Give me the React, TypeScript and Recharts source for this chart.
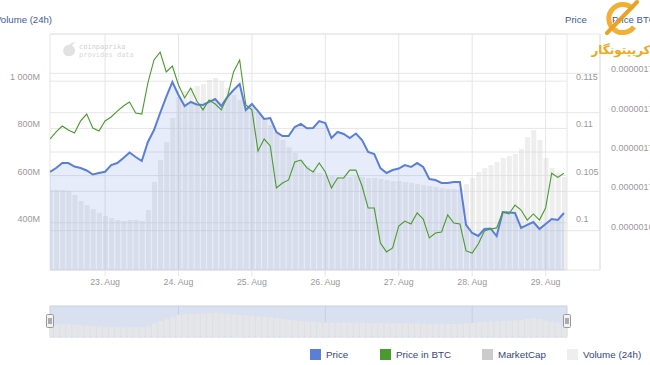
import React from 'react';
import { ComposedChart, Bar, Area, Line, XAxis, YAxis, CartesianGrid, ReferenceArea } from 'recharts';

// hours relative to 23 Aug 00:00
const hours = [
  -18, -16, -14, -12, -10, -8, -6, -4, -2, 0, 2, 4, 6, 8, 10, 12, 14, 16, 18, 20, 22,
  24, 26, 28, 30, 32, 34, 36, 38, 40, 42, 44, 46, 48, 50, 52, 54, 56, 58, 60, 62, 64,
  66, 68, 70, 72, 74, 76, 78, 80, 82, 84, 86, 88, 90, 92, 94, 96, 98, 100, 102, 104,
  106, 108, 110, 112, 114, 116, 118, 120, 122, 124, 126, 128, 130, 132, 134, 136, 138,
  140, 142, 144, 146, 148, 150,
];

const priceUsd = [
  0.10538, 0.1058, 0.10633, 0.10633, 0.10596, 0.1058, 0.10554, 0.10512, 0.10528, 0.10541,
  0.10612, 0.10633, 0.10686, 0.10745, 0.10697, 0.10655, 0.10856, 0.10983, 0.11163, 0.11333,
  0.11492, 0.11354, 0.11237, 0.1128, 0.11253, 0.11248, 0.1128, 0.11311, 0.11237, 0.11333,
  0.11407, 0.1147, 0.11195, 0.11258, 0.11184, 0.111, 0.1111, 0.10962, 0.10919, 0.10919,
  0.11015, 0.11047, 0.11001, 0.11004, 0.11078, 0.11057, 0.10898, 0.10962, 0.10941, 0.10898,
  0.10946, 0.10877, 0.1075, 0.10729, 0.1058, 0.10528, 0.10559, 0.10575, 0.10612, 0.10591,
  0.10633, 0.10591, 0.10464, 0.10453, 0.10422, 0.10422, 0.10432, 0.10432, 0.09977, 0.09892,
  0.0986, 0.09934, 0.0994, 0.0986, 0.10114, 0.10109, 0.10104, 0.09945, 0.09977, 0.10008,
  0.09934, 0.09987, 0.1004, 0.1003, 0.10104,
];

const priceBtc = [
  1.7266e-6, 1.7302e-6, 1.7332e-6, 1.7312e-6, 1.7297e-6, 1.7358e-6, 1.7393e-6, 1.7322e-6, 1.7307e-6, 1.7358e-6,
  1.7378e-6, 1.7408e-6, 1.7434e-6, 1.7454e-6, 1.7398e-6, 1.7393e-6, 1.7551e-6, 1.7668e-6, 1.7708e-6, 1.7607e-6,
  1.7637e-6, 1.7541e-6, 1.7475e-6, 1.7525e-6, 1.7459e-6, 1.7414e-6, 1.7464e-6, 1.7444e-6, 1.7414e-6, 1.748e-6,
  1.7607e-6, 1.7668e-6, 1.7439e-6, 1.7414e-6, 1.7205e-6, 1.7266e-6, 1.7231e-6, 1.7017e-6, 1.7042e-6, 1.7058e-6,
  1.7149e-6, 1.7159e-6, 1.7119e-6, 1.7098e-6, 1.7144e-6, 1.7098e-6, 1.7017e-6, 1.7068e-6, 1.7068e-6, 1.7108e-6,
  1.7108e-6, 1.7027e-6, 1.6915e-6, 1.6915e-6, 1.6737e-6, 1.6692e-6, 1.6712e-6, 1.6824e-6, 1.6849e-6, 1.6834e-6,
  1.689e-6, 1.6859e-6, 1.6763e-6, 1.6788e-6, 1.6793e-6, 1.688e-6, 1.6839e-6, 1.6834e-6, 1.6697e-6, 1.6686e-6,
  1.6732e-6, 1.6798e-6, 1.6808e-6, 1.6814e-6, 1.6895e-6, 1.6885e-6, 1.693e-6, 1.6905e-6, 1.6854e-6, 1.6885e-6,
  1.6854e-6, 1.6915e-6, 1.7092e-6, 1.7071e-6, 1.7092e-6,
];

// 24h volume, millions USD
const volume24h = [
  539, 539, 539, 535, 518, 492, 475, 458, 442, 429, 420, 412, 408, 412, 412, 408, 454, 573,
  666, 742, 844, 933, 958, 971, 980, 988, 1005, 1014, 1001, 971, 942, 920, 908, 895, 869,
  844, 814, 785, 751, 721, 696, 666, 641, 624, 611, 603, 598, 594, 594, 594, 598, 594, 590,
  590, 586, 581, 577, 577, 573, 569, 564, 560, 556, 552, 547, 543, 543, 543, 564, 590, 615,
  632, 645, 658, 675, 683, 692, 713, 764, 793, 751, 675, 632, 611, 594,
];

const dayTicks = [0, 24, 48, 72, 96, 120, 144];
const dayLabels = ['23. Aug', '24. Aug', '25. Aug', '26. Aug', '27. Aug', '28. Aug', '29. Aug'];
const navTicks = [24, 72, 120];
const volumeTicks = [200, 400, 600, 800, 1000, 1200];
const priceTicks = [0.095, 0.1, 0.105, 0.11, 0.115, 0.12];
const btcTicks = [1.66e-6, 1.68e-6, 1.7e-6, 1.72e-6, 1.74e-6, 1.76e-6, 1.78e-6];

const legendItems = [
  { name: 'Price', color: '#5a7fd8' },
  { name: 'Price in BTC', color: '#4a9a2e' },
  { name: 'MarketCap', color: '#cccccc' },
  { name: 'Volume (24h)', color: '#eeeeee' },
];

const rows = hours.map((t, i) => ({ t, price: priceUsd[i], btc: priceBtc[i], vol: volume24h[i] }));

const FONT = '"Liberation Sans", Arial, Helvetica, sans-serif';
const TICK_COLOR = '#999999';
const TITLE_COLOR = '#3d5a99';
const GRID = '#e6e6e6';

const fmtVol = (v: number) => (v === 1000 ? '1 000M' : `${v}M`);
const fmtBtc = (v: number) => v.toFixed(8).replace(/0+$/, '');

const XTick = (p: any) => {
  const idx = dayTicks.indexOf(p.payload.value);
  return (
    <g>
      <line x1={p.x} x2={p.x} y1={p.y} y2={p.y + 6} stroke={GRID} />
      <text x={p.x} y={p.y + 15} textAnchor="middle" fontSize={8.8} fill={TICK_COLOR} fontFamily={FONT}>
        {dayLabels[idx]}
      </text>
    </g>
  );
};

const VolTick = (p: any) => {
  const v = p.payload.value;
  if (v === volumeTicks[0] || v === volumeTicks[volumeTicks.length - 1]) return <g />;
  return (
    <text x={p.x} y={p.y - 1} textAnchor="end" fontSize={9} fill={TICK_COLOR} fontFamily={FONT}>
      {fmtVol(v)}
    </text>
  );
};

const PriceTick = (p: any) => {
  const v = p.payload.value;
  if (v === priceTicks[0] || v === priceTicks[priceTicks.length - 1]) return <g />;
  return (
    <text x={p.x} y={p.y - 1} textAnchor="start" fontSize={9} fill={TICK_COLOR} fontFamily={FONT}>
      {String(v)}
    </text>
  );
};

const BtcTick = (p: any) => {
  const v = p.payload.value;
  const axisX = p.x - 11;
  const hide = v === btcTicks[0] || v === btcTicks[btcTicks.length - 1];
  return (
    <g>
      <line x1={axisX - 33} x2={axisX} y1={p.y} y2={p.y} stroke={GRID} />
      {hide ? null : (
        <text x={p.x} y={p.y - 1} textAnchor="start" fontSize={9} fill={TICK_COLOR} fontFamily={FONT}>
          {fmtBtc(v)}
        </text>
      )}
    </g>
  );
};

const NavTick = (p: any) => {
  const idx = dayTicks.indexOf(p.payload.value);
  return (
    <text x={p.x + 3} y={p.y - 3} textAnchor="start" fontSize={8.8} fill="#8c93a6" fontFamily={FONT}>
      {dayLabels[idx]}
    </text>
  );
};

const Handle = ({ cx }: { cx: number }) => (
  <g>
    <rect x={cx - 3.5} y={314.5} width={7} height={13} rx={1} fill="#f2f2f2" stroke="#999999" />
    <line x1={cx - 1} x2={cx - 1} y1={318} y2={324} stroke="#666666" />
    <line x1={cx + 1} x2={cx + 1} y1={318} y2={324} stroke="#666666" />
  </g>
);

const legendX = [310, 380, 482, 567];

// Shared axis set; `visible` false keeps identical geometry for the overlay layer.
const axes = (visible: boolean) => [
  <XAxis
    key="x"
    dataKey="t"
    type="number"
    domain={[-18, 151]}
    ticks={dayTicks}
    interval={0}
    allowDataOverflow
    height={20}
    tickSize={0}
    tickMargin={0}
    tickLine={false}
    axisLine={visible ? { stroke: GRID } : false}
    tick={visible ? XTick : false}
  />,
  <YAxis
    key="vol"
    yAxisId="vol"
    orientation="left"
    width={50}
    domain={[200, 1200]}
    ticks={volumeTicks}
    interval={0}
    allowDataOverflow
    tickSize={0}
    tickMargin={10}
    tickLine={false}
    axisLine={visible ? { stroke: GRID } : false}
    tick={visible ? VolTick : false}
  />,
  <YAxis
    key="yb"
    yAxisId="yb"
    orientation="right"
    width={50}
    domain={[1.66e-6, 1.78e-6]}
    ticks={btcTicks}
    interval={0}
    allowDataOverflow
    tickSize={0}
    tickMargin={11}
    tickLine={false}
    axisLine={visible ? { stroke: '#d8d8d8' } : false}
    tick={visible ? BtcTick : false}
  />,
  <YAxis
    key="ya"
    yAxisId="ya"
    orientation="right"
    width={33}
    domain={[0.095, 0.12]}
    ticks={priceTicks}
    interval={0}
    allowDataOverflow
    tickSize={0}
    tickMargin={9}
    tickLine={false}
    axisLine={visible ? { stroke: GRID } : false}
    tick={visible ? PriceTick : false}
  />,
];

const MAIN_MARGIN = { top: 34, right: 0, bottom: 10, left: 0 };

export default function App() {
  return (
    <div style={{ position: 'absolute', left: 0, top: 0, width: 650, height: 365, background: '#fff', overflow: 'hidden' }}>
      {/* base layer: grid, axes, volume columns */}
      <div style={{ position: 'absolute', left: 0, top: 0 }}>
        <ComposedChart width={650} height={300} data={rows} margin={MAIN_MARGIN}>
          {axes(true)}
          <CartesianGrid yAxisId="ya" stroke={GRID} syncWithTicks />
          <CartesianGrid yAxisId="yb" vertical={false} stroke={GRID} syncWithTicks />
          <Bar yAxisId="vol" dataKey="vol" fill="#d6d6d6" fillOpacity={0.42} barSize={5} isAnimationActive={false} />
        </ComposedChart>
      </div>

      {/* overlay layer: price area and BTC line */}
      <div style={{ position: 'absolute', left: 0, top: 0 }}>
        <ComposedChart width={650} height={300} data={rows} margin={MAIN_MARGIN}>
          {axes(false)}
          <Area
            yAxisId="ya"
            dataKey="price"
            type="linear"
            stroke="#5a7fd8"
            strokeWidth={2}
            fill="#5a7fd8"
            fillOpacity={0.15}
            dot={false}
            activeDot={false}
            isAnimationActive={false}
          />
          <Line
            yAxisId="yb"
            dataKey="btc"
            type="linear"
            stroke="#4a9a2e"
            strokeWidth={1.1}
            dot={false}
            activeDot={false}
            isAnimationActive={false}
          />
        </ComposedChart>
      </div>

      {/* navigator */}
      <div style={{ position: 'absolute', left: 0, top: 300 }}>
        <ComposedChart width={650} height={45} data={rows} margin={{ top: 6, right: 83, bottom: 8, left: 50 }}>
          <XAxis
            dataKey="t"
            type="number"
            domain={[-18, 151]}
            ticks={navTicks}
            interval={0}
            allowDataOverflow
            height={0}
            tickSize={0}
            tickMargin={0}
            tickLine={false}
            axisLine={false}
            tick={NavTick}
          />
          <YAxis yAxisId="nv" hide domain={[0, 1300]} />
          <CartesianGrid yAxisId="nv" horizontal={false} stroke="#e8e8e8" syncWithTicks />
          <Bar yAxisId="nv" dataKey="vol" fill="#e6e6e6" barSize={5} isAnimationActive={false} />
          <ReferenceArea yAxisId="nv" x1={-18} x2={151} fill="rgb(102,133,194)" fillOpacity={0.25} stroke="#c9cfdf" />
        </ComposedChart>
      </div>

      <svg width={650} height={365} style={{ position: 'absolute', left: 0, top: 0, pointerEvents: 'none' }}>
        {/* axis titles */}
        <text x={-5} y={23} fontSize={9.6} fill={TITLE_COLOR} fontFamily={FONT}>Volume (24h)</text>
        <text x={565} y={23} fontSize={9.6} fill={TITLE_COLOR} fontFamily={FONT}>Price</text>
        <text x={612} y={23} fontSize={9.6} fill={TITLE_COLOR} fontFamily={FONT}>Price BTC</text>

        {/* coinpaprika watermark */}
        <path d="M69 45 C64 45 62 50 64 54 C66 57 71 57 74 54 C76 51 75 47 72 46 C73 44 74 43 75 42 C73 42 71 43 69 45 Z" fill="#e2e2e2" />
        <text x={79} y={48.5} fontSize={7} fill="#d0d0d0" fontFamily='"DejaVu Sans Mono", monospace'>coinpaprika</text>
        <text x={79} y={57} fontSize={7} fill="#d8d8d8" fontFamily='"DejaVu Sans Mono", monospace'>provides data</text>

        {/* site logo */}
        <g opacity={0.9}>
          <path d="M633 9 A14 14 0 1 0 634 27" fill="none" stroke="#f2a71b" strokeWidth={5} />
          <line x1={637} y1={2} x2={607} y2={33} stroke="#e99a10" strokeWidth={4} strokeLinecap="round" />
          <line x1={612} y1={24} x2={628} y2={8} stroke="#ffffff" strokeWidth={1} strokeDasharray="2 2" />
        </g>
        <text x={621} y={54} textAnchor="middle" fontSize={12} fontWeight="bold" fill="#f2a71b" fontFamily='"DejaVu Sans", sans-serif'>کریپتونگار</text>

        {/* navigator handles */}
        <Handle cx={50} />
        <Handle cx={567} />

        {/* legend */}
        {legendItems.map((it, i) => (
          <g key={it.name}>
            <rect x={legendX[i]} y={349} width={11} height={11} fill={it.color} />
            <text x={legendX[i] + 16} y={357.5} fontSize={9.8} fill="#36467a" fontFamily={FONT}>{it.name}</text>
          </g>
        ))}
      </svg>
    </div>
  );
}
